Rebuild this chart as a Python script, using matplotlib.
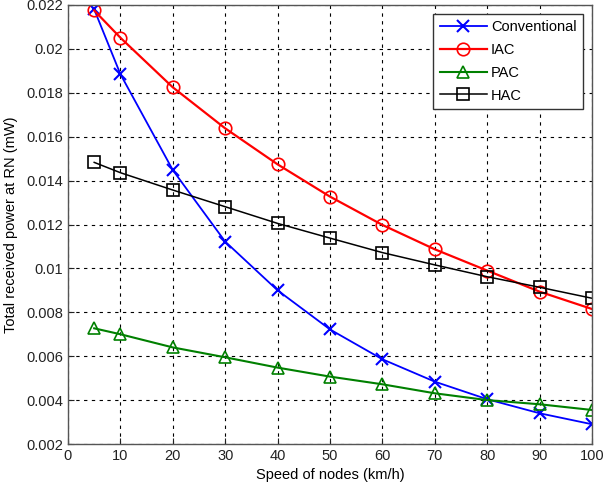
import matplotlib
matplotlib.use("Agg")
import matplotlib.pyplot as plt

plt.rcParams['font.family'] = ['Liberation Sans', 'DejaVu Sans']

speed = [5, 10, 20, 30, 40, 50, 60, 70, 80, 90, 100]
conventional = [0.02180, 0.01885, 0.01448, 0.01122, 0.00900, 0.00722, 0.00586, 0.00484, 0.00404, 0.00340, 0.00290]
iac = [0.02175, 0.02051, 0.01825, 0.01638, 0.01474, 0.01327, 0.01198, 0.01087, 0.00990, 0.00894, 0.00815]
pac = [0.00727, 0.00700, 0.00640, 0.00595, 0.00548, 0.00507, 0.00472, 0.00431, 0.00400, 0.00381, 0.00355]
hac = [0.01483, 0.01436, 0.01357, 0.01281, 0.01205, 0.01138, 0.01072, 0.01016, 0.00962, 0.00914, 0.00864]

xticks = [0, 10, 20, 30, 40, 50, 60, 70, 80, 90, 100]
yticks = [0.002, 0.004, 0.006, 0.008, 0.01, 0.012, 0.014, 0.016, 0.018, 0.02, 0.022]
ytick_labels = ['0.002', '0.004', '0.006', '0.008', '0.01', '0.012', '0.014', '0.016', '0.018', '0.02', '0.022']

fig = plt.figure(figsize=(6.05, 4.84), dpi=100)
ax = fig.add_axes([68/605, 1-444/484, (592-68)/605, (444-5)/484])

ax.plot(speed, conventional, color='#0000ff', marker='x', markersize=8, mew=1.5, lw=1.3, label='Conventional')
ax.plot(speed, iac, color='#ff0000', marker='o', markersize=9, mfc='none', mew=1.2, lw=1.6, label='IAC')
ax.plot(speed, pac, color='#008000', marker='^', markersize=9, mfc='none', mew=1.2, lw=1.5, label='PAC')
ax.plot(speed, hac, color='#000000', marker='s', markersize=8, mfc='none', mew=1.2, lw=1.1, label='HAC')

ax.set_xlim(0, 100)
ax.set_ylim(0.002, 0.022)
ax.set_xticks(xticks)
ax.set_xticklabels([str(t) for t in xticks])
ax.set_yticks(yticks)
ax.set_yticklabels(ytick_labels)
ax.tick_params(direction='in', labelsize=10.5, length=4, colors='#222222')
ax.grid(True, color='black', linestyle=(0, (3, 4)), linewidth=0.8)
for s in ax.spines.values():
    s.set_color('#555555')
    s.set_linewidth(1.0)

ax.set_xlabel('Speed of nodes (km/h)', fontsize=10.5, labelpad=4)
ax.set_ylabel('Total received power at RN (mW)', fontsize=10.5, labelpad=6)

leg = ax.legend(loc='upper right', fontsize=10.5, frameon=True, fancybox=False,
                edgecolor='#333333', framealpha=1, borderaxespad=0.6,
                handlelength=3.2, labelspacing=0.6, borderpad=0.45, handletextpad=0.3)
leg.get_frame().set_linewidth(1.0)

fig.savefig('out.png', dpi=100)
